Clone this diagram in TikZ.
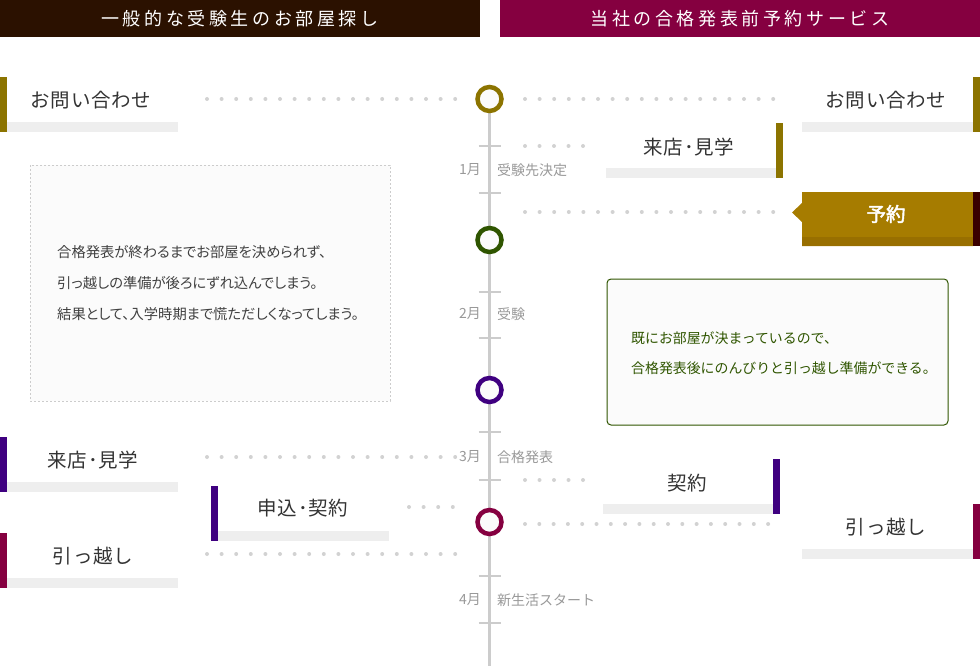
\documentclass[tikz,border=0pt]{standalone}
\usepackage{fontspec}
\setmainfont{Noto Sans CJK JP}
\usetikzlibrary{calc}
\definecolor{hdrL}{HTML}{2B1100}
\definecolor{hdrR}{HTML}{850040}
\definecolor{olv}{HTML}{8C7400}
\definecolor{grn}{HTML}{2F5500}
\definecolor{purp}{HTML}{3F0080}
\definecolor{crim}{HTML}{850040}
\definecolor{barg}{HTML}{EEEEEE}
\definecolor{dotg}{HTML}{D2D2D2}
\definecolor{lineg}{HTML}{CCCCCC}
\definecolor{gld}{HTML}{A67C00}
\definecolor{glddk}{HTML}{986F00}
\definecolor{txt}{HTML}{333333}
\definecolor{body}{HTML}{404040}
\definecolor{mon}{HTML}{999999}
\definecolor{boxfill}{HTML}{FBFBFB}
\definecolor{darkbar}{HTML}{3A0000}
\tikzset{
  hdrtext/.style={text=white,font=\fontsize{18}{21}\selectfont\addfontfeature{LetterSpace=20}},
  cardtxt/.style={text=txt,font=\fontsize{19.5}{22}\selectfont\addfontfeature{LetterSpace=4},inner sep=0pt},
  bodytxt/.style={text=body,font=\fontsize{14.3}{16}\selectfont\addfontfeature{RawFeature=+palt},anchor=west,inner sep=0pt},
  grntxt/.style={text=grn,font=\fontsize{13.9}{16}\selectfont,anchor=west,inner sep=0pt},
  montxt/.style={text=mon,font=\fontsize{14}{16}\selectfont,inner sep=0pt},
  ring/.style={circle,draw=#1,line width=4.5pt,fill=boxfill,minimum size=24pt,inner sep=0pt},
  tick/.style={draw=lineg,line width=2.5pt},
}
\newcommand\dotrow[4]{\foreach \i in {0,...,#3}{\fill[dotg] ({#1+\i*#4},#2) circle (2);}}
\begin{document}
\begin{tikzpicture}[x=1pt,y=-1pt]
\useasboundingbox (0,0) rectangle (980,666);
% headers
\fill[hdrL] (0,0) rectangle (480,37);
\node[hdrtext] (hl) at (240,18.5) {一般的な受験生のお部屋探し};
\fill[hdrR] (500,0) rectangle (980,37);
\node[hdrtext] (hr) at (740,18.5) {当社の合格発表前予約サービス};
% timeline
\coordinate (ttop) at (489.5,99);
\coordinate (tbot) at (489.5,666);
\draw[lineg,line width=3pt] (ttop) -- (tbot);
\foreach \y in {146,193,292,338,432,480,576,623}{\draw[tick] (478.5,\y) -- (500.5,\y);}
\node[montxt,anchor=east] (m1) at (481,170) {1月};
\node[montxt,anchor=west] (e1) at (497,170) {受験先決定};
\node[montxt,anchor=east] (m2) at (481,314) {2月};
\node[montxt,anchor=west] (e2) at (497,314) {受験};
\node[montxt,anchor=east] (m3) at (481,457) {3月};
\node[montxt,anchor=west] (e3) at (497,457) {合格発表};
\node[montxt,anchor=east] (m4) at (481,600) {4月};
\node[montxt,anchor=west] (e4) at (497,600) {新生活スタート};
\node[ring=olv] (c1) at (489.5,99) {};
\node[ring=grn] (c2) at (489.5,240) {};
\node[ring=purp] (c3) at (489.5,390) {};
\node[ring=crim] (c4) at (489.5,522) {};
% dotted rows
\dotrow{207}{99}{17}{14.6}
\dotrow{525}{99}{17}{14.6}
\dotrow{525}{146}{4}{14.5}
\dotrow{525}{212}{17}{14.6}
\dotrow{207}{457}{17}{14.6}
\dotrow{409}{507}{3}{14.6}
\dotrow{207}{554}{17}{14.6}
\dotrow{525}{480}{4}{14.5}
\dotrow{525}{524}{17}{14.3}
% left cards
\fill[barg] (7,122) rectangle (178,132);
\fill[olv] (0,77) rectangle (7,132);
\node[cardtxt] (lq) at (91,100) {お問い合わせ};
\fill[barg] (7,482) rectangle (178,492);
\fill[purp] (0,437) rectangle (7,492);
\node[cardtxt] (lv) at (93,460) {来店･見学};
\fill[barg] (218,531) rectangle (389,541);
\fill[purp] (211,486) rectangle (218,541);
\node[cardtxt] (lc) at (303,508) {申込･契約};
\fill[barg] (7,578) rectangle (178,588);
\fill[crim] (0,533) rectangle (7,588);
\node[cardtxt] (lm) at (93,556) {引っ越し};
% right cards
\fill[barg] (802,122) rectangle (973,132);
\fill[olv] (973,77) rectangle (980,132);
\node[cardtxt] (rq) at (886,100) {お問い合わせ};
\fill[barg] (606,168) rectangle (776,178);
\fill[olv] (776,123) rectangle (783,178);
\node[cardtxt] (rv) at (689,147) {来店･見学};
\fill[gld] (802,192) -- (973,192) -- (973,246) -- (802,246) -- (802,222) -- (792,212.5) -- (802,203) -- cycle;
\fill[glddk] (802,237) rectangle (973,246);
\fill[darkbar] (973,192) rectangle (980,246);
\node[cardtxt,text=white,font=\fontsize{19.5}{22}\selectfont\addfontfeature{FakeBold=2.5}] (ry) at (886,214) {予約};
\fill[barg] (603,504) rectangle (773,514);
\fill[purp] (773,459) rectangle (780,514);
\node[cardtxt] (rc) at (687,483) {契約};
\fill[barg] (802,549) rectangle (973,559);
\fill[crim] (973,504) rectangle (980,559);
\node[cardtxt] (rm) at (886,527) {引っ越し};
% left note box
\draw[lineg,dash pattern=on 2pt off 2pt,line width=0.8pt,fill=boxfill] (30,165) rectangle (390,401);
\node[bodytxt] (b1) at (57,252) {合格発表が終わるまでお部屋を決められず、};
\node[bodytxt] (b2) at (57,283) {引っ越しの準備が後ろにずれ込んでしまう。};
\node[bodytxt] (b3) at (57,314) {結果として、入学時期まで慌ただしくなってしまう。};
% right note box
\draw[grn,line width=1pt,fill=boxfill,rounded corners=4pt] (607,279) rectangle (948,425);
\node[grntxt] (g1) at (631,338) {既にお部屋が決まっているので、};
\node[grntxt] (g2) at (631,368) {合格発表後にのんびりと引っ越し準備ができる。};
\end{tikzpicture}
\end{document}
